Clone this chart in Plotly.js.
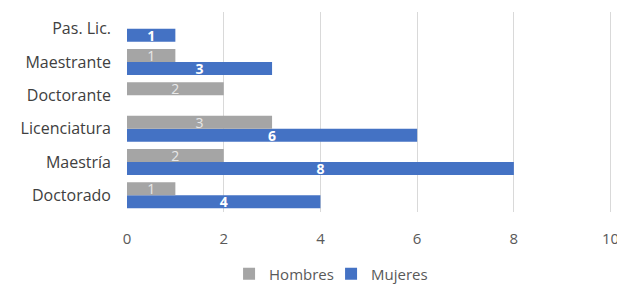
<!DOCTYPE html>
<html>
<head>
<meta charset="utf-8">
<script src="https://cdn.plot.ly/plotly-3.0.1.min.js"></script>
<style>html,body{margin:0;padding:0;background:#fff;}#chart{width:617px;height:295px;}</style>
</head>
<body>
<div id="chart"></div>
<script>
const categories = ["Doctorado", "Maestría", "Licenciatura", "Doctorante", "Maestrante", "Pas. Lic."];
const hombres = [1, 2, 3, 2, 1, null];
const mujeres = [4, 8, 6, null, 3, 1];
const xTicks = [0, 2, 4, 6, 8, 10];

const font = "Open Sans, Liberation Sans, sans-serif";

const data = [
  {
    type: "bar", orientation: "h", name: "Mujeres",
    y: categories, x: mujeres,
    marker: {color: "#4472C4"},
    text: mujeres.map(v => v == null ? "" : String(v)),
    texttemplate: "<b>%{text}</b>",
    textposition: "inside", insidetextanchor: "middle", textangle: 0,
    constraintext: "none",
    textfont: {family: font, size: 14, color: "#ffffff"},
    hoverinfo: "skip"
  },
  {
    type: "bar", orientation: "h", name: "Hombres",
    y: categories, x: hombres,
    marker: {color: "#A5A5A5"},
    text: hombres.map(v => v == null ? "" : String(v)),
    texttemplate: "%{text}",
    textposition: "inside", insidetextanchor: "middle", textangle: 0,
    constraintext: "none",
    textfont: {family: font, size: 14, color: "#e8e8e8"},
    hoverinfo: "skip"
  }
];

const layout = {
  width: 617, height: 295,
  margin: {l: 127, r: 4, t: 12, b: 76},
  paper_bgcolor: "#ffffff", plot_bgcolor: "#ffffff",
  barmode: "group", bargap: 0.22, bargroupgap: 0,
  font: {family: font, color: "#595959"},
  xaxis: {
    range: [0, 10.05], tickvals: xTicks, ticktext: xTicks.map(String),
    showgrid: true, gridcolor: "#d9d9d9", gridwidth: 1,
    zeroline: false, showline: false, ticks: "",
    ticklabelstandoff: 16, ticklabeloverflow: "allow",
    tickfont: {family: font, size: 15, color: "#595959"},
    fixedrange: true
  },
  yaxis: {
    type: "category", categoryorder: "array", categoryarray: categories,
    showgrid: false, zeroline: false, showline: false, ticks: "",
    ticklabelstandoff: 15,
    tickfont: {family: font, size: 16, color: "#404040"},
    fixedrange: true
  },
  showlegend: true,
  legend: {
    orientation: "h", traceorder: "reversed",
    x: 0.21, xanchor: "left", y: -0.31, yanchor: "middle",
    font: {family: font, size: 15, color: "#595959"},
    itemwidth: 30, entrywidth: 57, entrywidthmode: "pixels"
  }
};

Plotly.newPlot("chart", data, layout, {displayModeBar: false, staticPlot: true});
</script>
</body>
</html>
